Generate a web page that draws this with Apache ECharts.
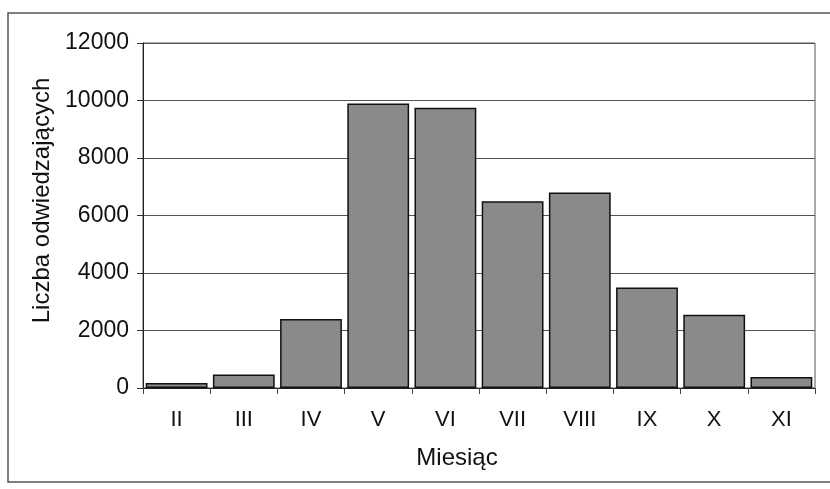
<!DOCTYPE html>
<html lang="pl">
<head>
  <meta charset="UTF-8">
  <title>Liczba odwiedzających</title>
  <script src="https://cdn.jsdelivr.net/npm/echarts@6/dist/echarts.min.js"></script>
</head>
<body style="margin:0; background:#fff;">
<div id="main" style="width:830px; height:489px;"></div>
<script>
  // miesiące i liczba odwiedzających
  var months = ['II', 'III', 'IV', 'V', 'VI', 'VII', 'VIII', 'IX', 'X', 'XI'];
  var visitors = [170, 470, 2400, 9900, 9750, 6500, 6800, 3500, 2550, 380];

  var font = '"Liberation Sans", Arial, sans-serif';
  var chart = echarts.init(document.getElementById('main'));

  chart.setOption({
    backgroundColor: '#fff',
    animation: false,
    graphic: [{
      type: 'rect',
      shape: { x: 8, y: 13, width: 840, height: 469 },
      style: { fill: 'none', stroke: '#555', lineWidth: 1.5 },
      silent: true
    }],
    grid: {
      left: 143, right: 15, top: 43, bottom: 101,
      show: true, borderColor: '#555', borderWidth: 1
    },
    xAxis: {
      type: 'category',
      data: months,
      boundaryGap: true,
      name: 'Miesiąc',
      nameLocation: 'middle',
      nameGap: 58,
      nameTextStyle: { fontFamily: font, fontSize: 24, color: '#111', padding: [0, 44, 0, 0] },
      axisLine: { lineStyle: { color: '#222', width: 1 } },
      axisTick: { show: true, length: 6, lineStyle: { color: '#444' } },
      axisLabel: { fontFamily: font, fontSize: 22, color: '#111', margin: 21 }
    },
    yAxis: {
      type: 'value',
      min: 0, max: 12000, interval: 2000,
      name: 'Liczba odwiedzających',
      nameLocation: 'middle',
      nameGap: 81,
      nameTextStyle: { fontFamily: font, fontSize: 24, color: '#111', padding: [0, 0, 0, 30] },
      axisLine: { show: true, lineStyle: { color: '#222', width: 1 } },
      axisTick: { show: true, length: 6, lineStyle: { color: '#333' } },
      axisLabel: {
        fontFamily: font, fontSize: 23, color: '#111', margin: 14,
        formatter: function (v) { return String(v); }
      },
      splitLine: { lineStyle: { color: '#555', width: 1 } }
    },
    series: [{
      type: 'bar',
      data: visitors,
      barCategoryGap: '8%',
      itemStyle: { color: '#8a8a8a', borderColor: '#111', borderWidth: 1.5 }
    }]
  });
</script>
</body>
</html>
